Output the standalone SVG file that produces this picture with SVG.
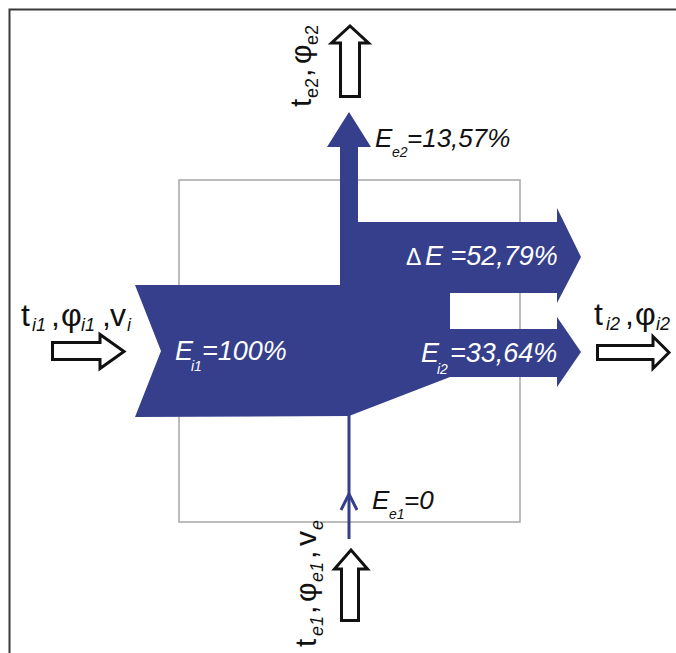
<svg xmlns="http://www.w3.org/2000/svg" width="676" height="653" viewBox="0 0 676 653">
<style>
.frame{fill:none;stroke:#3a3a3a;stroke-width:2}
.box{fill:none;stroke:#a6a6a6;stroke-width:1.5}
.flow{fill:#353F8C}
.hol{fill:#fff;stroke:#111;stroke-width:3;stroke-linejoin:miter;stroke-miterlimit:10}
.thin{fill:none;stroke:#353F8C;stroke-width:3}
.w{font-family:"Liberation Sans",Arial,sans-serif;font-style:italic;fill:#fff;font-size:27px}
.ws{font-family:"Liberation Sans",Arial,sans-serif;font-style:italic;fill:#fff;font-size:14px}
.b{font-family:"Liberation Sans",Arial,sans-serif;font-style:italic;fill:#111;font-size:26px}
.bs{font-family:"Liberation Sans",Arial,sans-serif;font-style:italic;fill:#111;font-size:14px}
.k{font-family:"Liberation Sans",Arial,sans-serif;fill:#111;font-size:32px}
.ks{font-family:"Liberation Sans",Arial,sans-serif;font-style:italic;fill:#111;font-size:18px}
.ku{font-family:"Liberation Sans",Arial,sans-serif;fill:#111;font-size:18px}
</style>
<path class="frame" d="M9.5,653 V9.5 H676"/>
<g id="control-volume"><rect class="box" x="179" y="180" width="341" height="342"/></g>
<g id="energy-flow">
<polygon class="flow" points="135,285 340,285 340,147 327,147 349,112 371,147 358,147 358,222 557,222 557,208 581,257 557,303 557,293 450,293 450,329 557,329 557,317 581,352 557,387 557,377 450,377 349,416 135,417 161,351"/>
</g>
<g id="connectors">
<line class="thin" x1="349" y1="415" x2="349" y2="539"/>
<polyline class="thin" points="341,510 349,494 357,510"/>
<polygon class="hol" points="52.5,342.5 100,342.5 100,334.5 124,351.5 100,368.5 100,359.5 52.5,359.5"/>
<polygon class="hol" points="597.5,345.5 653,345.5 653,336.5 669,352.5 653,368.5 653,359.5 597.5,359.5"/>
<polygon class="hol" points="340.5,96.5 340.5,43 331.5,43 350,26 368.5,43 359.5,43 359.5,96.5"/>
<polygon class="hol" points="341.5,620.5 341.5,569 334.5,569 351,550 367.5,569 358.5,569 358.5,620.5"/>
</g>
<g id="label-ei1">
<text class="w" x="175" y="360">E</text><text class="ws" x="191" y="371">i1</text><text class="w" x="202" y="360">=100%</text>
</g>
<g id="label-de">
<text x="406" y="265" style="font-family:'Liberation Sans',Arial,sans-serif;fill:#fff;font-size:23px">Δ</text>
<text class="w" x="425" y="265">E =52,79%</text>
</g>
<g id="label-ei2">
<text class="w" x="421" y="362">E</text><text class="ws" x="437" y="374">i2</text><text class="w" x="450" y="362">=33,64%</text>
</g>
<g id="label-ee2">
<text class="b" x="375" y="147">E</text><text class="bs" x="392" y="157">e2</text><text class="b" x="407" y="147">=13,57%</text>
</g>
<g id="label-ee1">
<text class="b" x="372" y="509">E</text><text class="bs" x="389" y="519">e1</text><text class="b" x="404" y="509">=0</text>
</g>
<g id="label-in">
<text class="k" x="21" y="326">t</text><text class="ks" x="32" y="331">i1</text>
<text class="k" x="51" y="326">,</text><text class="k" x="61" y="326">φ</text><text class="ks" x="81" y="331">i1</text>
<text class="k" x="102" y="326">,</text><text class="k" x="110" y="326">v</text><text class="ks" x="127" y="331">i</text>
</g>
<g id="label-out">
<text class="k" x="594" y="325">t</text><text class="ks" x="606" y="330">i2</text>
<text class="k" x="625" y="325">,</text><text class="k" x="635" y="325">φ</text><text class="ks" x="656" y="330">i2</text>
</g>
<g id="label-top" transform="translate(311,107) rotate(-90)">
<text class="k" style="font-size:30px" x="0" y="0">t</text><text class="ku" x="9" y="7">e2</text>
<text class="k" style="font-size:30px" x="30" y="0">,</text><text class="k" style="font-size:30px" x="43" y="0">φ</text><text class="ku" x="62" y="7">e2</text>
</g>
<g id="label-bottom" transform="translate(316,647) rotate(-90)">
<text class="k" style="font-size:30px" x="0" y="0">t</text><text class="ks" x="11" y="7">e1</text>
<text class="k" style="font-size:30px" x="33" y="0">,</text><text class="k" style="font-size:30px" x="45" y="0">φ</text><text class="ks" x="65" y="7">e1</text>
<text class="k" style="font-size:30px" x="88" y="0">,</text><text class="k" style="font-size:30px" x="101" y="0">v</text><text class="ks" x="117" y="7">e</text>
</g>
</svg>
